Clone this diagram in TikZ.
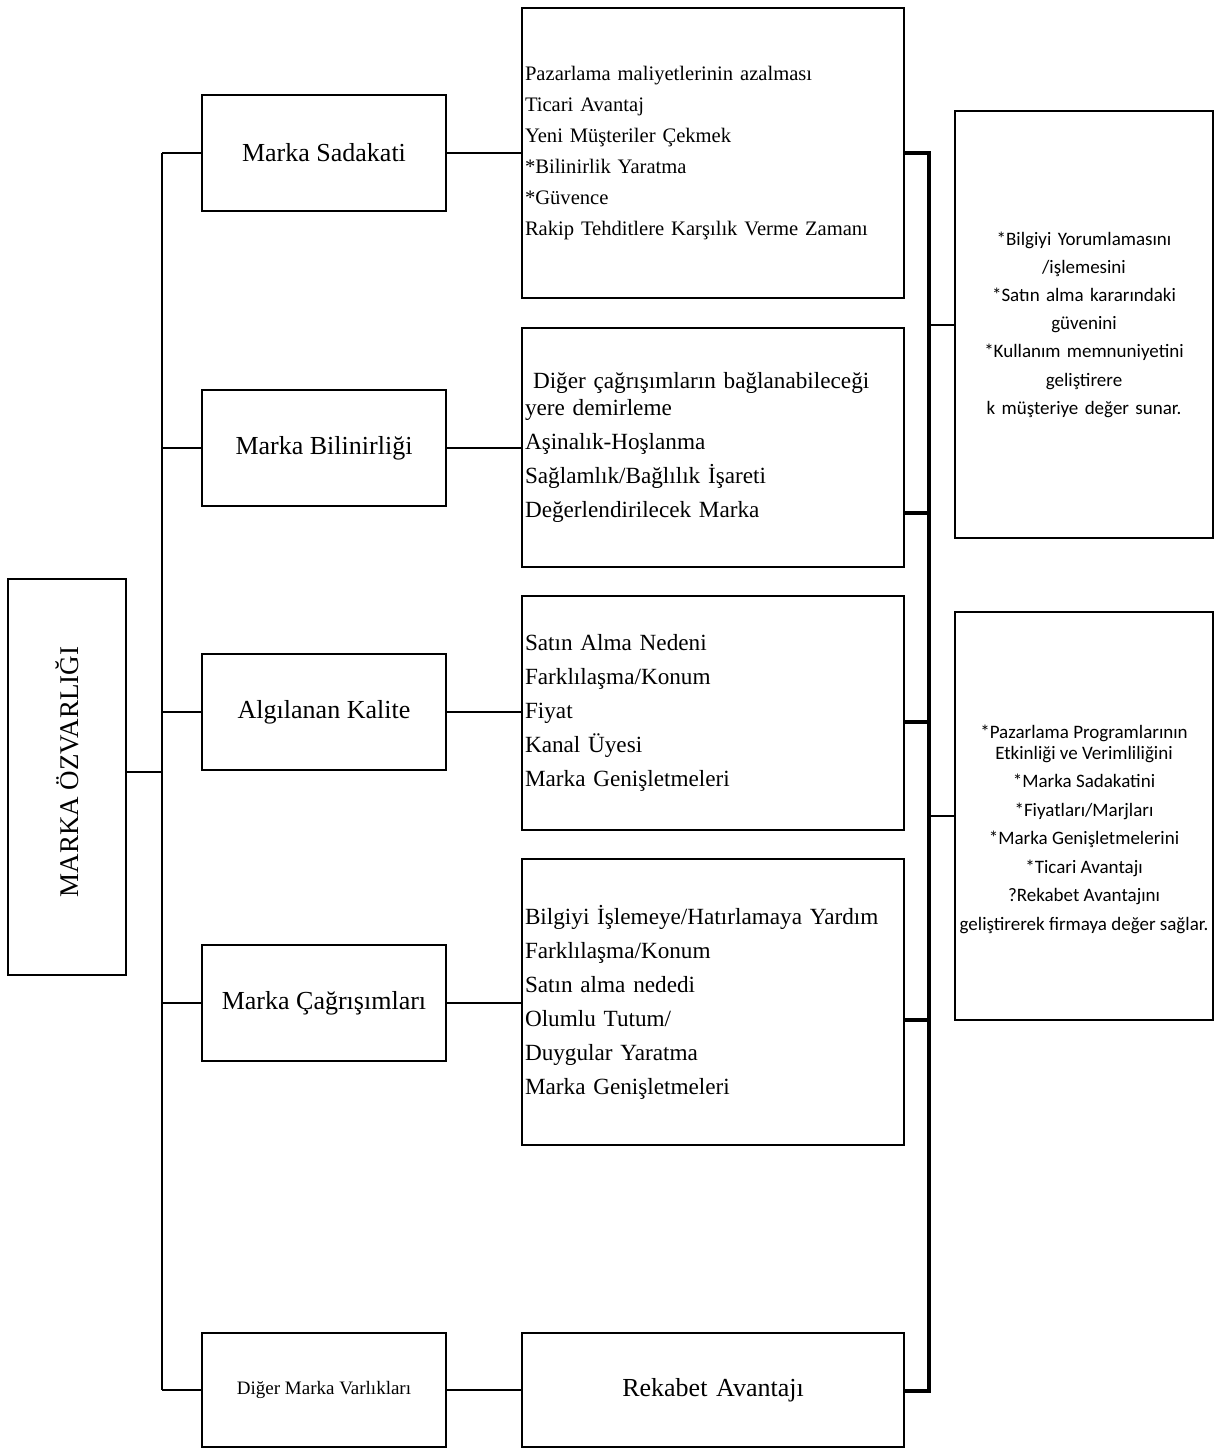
\documentclass[tikz,border=0pt]{standalone}
\usepackage{fontspec}
\setmainfont{Liberation Serif}
\newfontfamily\calibri{Carlito}
\usetikzlibrary{positioning}

\tikzset{
  box/.style={draw, line width=1pt, inner sep=0pt},
  leftbox/.style={box, minimum width=122pt, minimum height=58pt, font=\fontsize{13}{15}\selectfont},
  midbox/.style={box, minimum width=191pt, text width=188pt, inner xsep=1.5pt, align=left},
  rightbox/.style={box, minimum width=129pt, text width=129pt, align=center, font=\calibri\fontsize{9.5}{10.5}\selectfont},
  link/.style={line width=1pt},
  bus/.style={line width=1.7pt, line cap=rect},
}

\begin{document}
\begin{tikzpicture}[x=0.5pt,y=-0.5pt]
  \useasboundingbox (0,0) rectangle (1225,1448);

  % root
  \node[box, minimum width=59pt, minimum height=198pt] (equity) at (67,777) {};
  \node[rotate=90, font=\fontsize{13.5}{15}\selectfont] (equitytext) at (67,772) {MARKA ÖZVARLIĞI};

  % first level
  \node[leftbox] (loyalty) at (324,153) {Marka Sadakati};
  \node[leftbox] (awareness) at (324,448) {Marka Bilinirliği};
  \node[leftbox] (quality) at (324,712) {Algılanan Kalite};
  \node[leftbox] (assoc) at (324,1003) {Marka Çağrışımları};
  \node[leftbox, minimum height=57pt, font=\fontsize{9.5}{11}\selectfont] (other) at (324,1390) {Diğer Marka Varlıkları};

  % second level
  \node[midbox, minimum height=145pt, font=\fontsize{10.3}{11.8}\selectfont] (gains) at (713,153) {%
    Pazarlama maliyetlerinin azalması\\[3.7pt]
    Ticari Avantaj\\[3.7pt]
    Yeni Müşteriler Çekmek\\[3.7pt]
    *Bilinirlik Yaratma\\[3.7pt]
    *Güvence\\[3.7pt]
    Rakip Tehditlere Karşılık Verme Zamanı};
  \node[midbox, minimum height=119.5pt, font=\fontsize{11.6}{13.3}\selectfont] (anchor) at (713,447.5) {%
    \hspace*{4pt}Diğer çağrışımların bağlanabileceği\\
    yere demirleme\\[3.7pt]
    Aşinalık-Hoşlanma\\[3.7pt]
    Sağlamlık/Bağlılık İşareti\\[3.7pt]
    Değerlendirilecek Marka};
  \node[midbox, minimum height=117pt, font=\fontsize{11.6}{13.3}\selectfont] (reason) at (713,713) {%
    Satın Alma Nedeni\\[3.7pt]
    Farklılaşma/Konum\\[3.7pt]
    Fiyat\\[3.7pt]
    Kanal Üyesi\\[3.7pt]
    Marka Genişletmeleri};
  \node[midbox, minimum height=143pt, font=\fontsize{11.6}{13.3}\selectfont] (help) at (713,1002) {%
    Bilgiyi İşlemeye/Hatırlamaya Yardım\\[3.7pt]
    Farklılaşma/Konum\\[3.7pt]
    Satın alma nededi\\[3.7pt]
    Olumlu Tutum/\\[3.7pt]
    Duygular Yaratma\\[3.7pt]
    Marka Genişletmeleri};
  \node[midbox, minimum height=57pt, align=center, font=\fontsize{13}{15}\selectfont] (edge) at (713,1390) {Rekabet Avantajı};

  % value boxes
  \node[rightbox, minimum height=213.5pt] (customer) at (1084,324.5) {%
    *Bilgiyi Yorumlamasını\\[3.6pt]
    /işlemesini\\[3.6pt]
    *Satın alma kararındaki\\[3.6pt]
    güvenini\\[3.6pt]
    *Kullanım memnuniyetini\\[3.6pt]
    geliştirere\\[3.6pt]
    k müşteriye değer sunar.};
  \node[rightbox, minimum height=204pt] (firm) at (1084,816) {};
  \node[align=center, inner sep=0pt, font=\calibri\fontsize{9.5}{10.5}\selectfont] (firmtext) at (1084,829) {%
    *Pazarlama Programlarının\\
    Etkinliği ve Verimliliğini\\[3.75pt]
    *Marka Sadakatini\\[3.75pt]
    *Fiyatları/Marjları\\[3.75pt]
    *Marka Genişletmelerini\\[3.75pt]
    *Ticari Avantajı\\[3.75pt]
    ?Rekabet Avantajını\\[3.75pt]
    geliştirerek firmaya değer sağlar.};

  % left tree
  \coordinate (trunk) at (162,772);
  \draw[link] (equity.east |- trunk) -- (trunk);
  \draw[link] (loyalty.west -| trunk) -- (other.west -| trunk);
  \foreach \n in {loyalty,awareness,quality,assoc,other}
    \draw[link] (\n.west -| trunk) -- (\n.west);
  \foreach \a/\b in {loyalty/gains,awareness/anchor,quality/reason,assoc/help,other/edge}
    \draw[link] (\a.east) -- (\a.east -| \b.west);

  % right bus
  \coordinate (b1) at (929,153);
  \coordinate (b2) at (929,513);
  \coordinate (b3) at (929,722);
  \coordinate (b4) at (929,1020);
  \coordinate (b5) at (929,1391);
  \draw[bus] (b1) -- (b5);
  \foreach \b/\m in {b1/gains,b2/anchor,b3/reason,b4/help,b5/edge}
    \draw[bus] (\m.east |- \b) -- (\b);
  \draw[link] (customer.west -| b1) -- (customer.west);
  \draw[link] (firm.west -| b1) -- (firm.west);
\end{tikzpicture}
\end{document}
